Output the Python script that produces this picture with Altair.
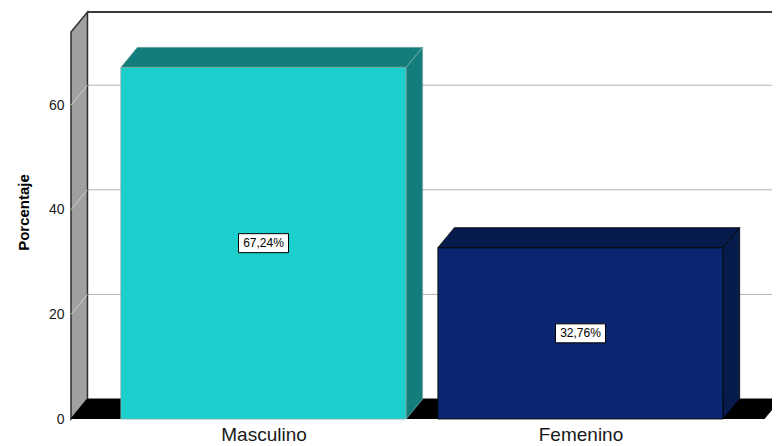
import json
import altair as alt
import pandas as pd

# ---- data ----
categories = ["Masculino", "Femenino"]
percent = [67.24, 32.76]
value_labels = ["67,24%", "32,76%"]
y_ticks = [0, 20, 40, 60]
front_colors = ["#1dcfcc", "#0b2671"]
shade_colors = ["#127d7a", "#061a4b"]
edge_colors = ["#7fa9a8", "#000000"]

# ---- 3D geometry constants (style) ----
Y_MAX = 74.0      # front-plane top of the value axis
DX = 0.052        # depth, in category units
DY = 3.82         # depth, in value units
PLOT_W = 701
X_MIN = 0.3927
X_MAX = X_MIN + PLOT_W / 317.0
HALF_W = 0.45
FLOOR_END = 2.579
FONT = "Liberation Sans"

pos = [i + 1 for i in range(len(categories))]

bars = pd.DataFrame({
    "name": categories, "pos": pos, "value": percent, "label": value_labels,
    "front": front_colors, "shade": shade_colors, "edge": edge_colors,
})
bars["L"] = bars["pos"] - HALF_W
bars["R"] = bars["pos"] + HALF_W
bars["zero"] = 0.0
bars["mid"] = bars["value"] / 2

top_rows, side_rows = [], []
for r in bars.to_dict("records"):
    base = {"name": r["name"], "shade": r["shade"], "edge": r["edge"]}
    top_rows.append({**base, "y": r["value"], "x": r["L"], "x2": r["R"]})
    top_rows.append({**base, "y": r["value"] + DY, "x": r["L"] + DX, "x2": r["R"] + DX})
    side_rows.append({**base, "x": r["R"], "y": r["value"], "y2": 0.0})
    side_rows.append({**base, "x": r["R"] + DX, "y": r["value"] + DY, "y2": DY})
top_df = pd.DataFrame(top_rows)
side_df = pd.DataFrame(side_rows)

floor_df = pd.DataFrame({"y": [0.0, DY], "x": [X_MIN, X_MIN + DX], "x2": [FLOOR_END, FLOOR_END + DX]})
wall_df = pd.DataFrame({"x": [X_MIN, X_MIN + DX], "y": [0.0, DY], "y2": [Y_MAX, Y_MAX + DY]})
grid_back = pd.DataFrame({"y": [v + DY for v in y_ticks[1:]], "x": X_MIN + DX, "x2": X_MAX})
grid_wall = pd.DataFrame({"x": X_MIN, "x2": X_MIN + DX, "y": y_ticks[1:], "y2": [v + DY for v in y_ticks[1:]]})
top_line = pd.DataFrame({"y": [Y_MAX + DY], "x": [X_MIN + DX], "x2": [X_MAX]})

xscale = alt.Scale(domain=[X_MIN, X_MAX], nice=False, zero=False)
yscale = alt.Scale(domain=[0, Y_MAX + DY], nice=False, zero=False)
xaxis = alt.Axis(values=pos, labelExpr=f"{json.dumps(categories)}[datum.value - 1]",
                 ticks=False, domain=False, grid=False, title=None,
                 labelFontSize=19, labelFont=FONT, labelColor="#1a1a1a", labelPadding=6)
yaxis = alt.Axis(values=y_ticks, ticks=False, domain=False, grid=False,
                 title="Porcentaje", titleFont=FONT, titleFontSize=15, titleFontWeight="bold",
                 titleColor="#000000", titlePadding=17, titleY=200,
                 labelFontSize=14, labelFont=FONT, labelColor="#1a1a1a", labelPadding=7)


def X(f):
    return alt.X(f, type="quantitative", scale=xscale, axis=xaxis)


def Y(f):
    return alt.Y(f, type="quantitative", scale=yscale, axis=yaxis)


back_grid = alt.Chart(grid_back).mark_rule(color="#b4b4b4", strokeWidth=1).encode(
    x=X("x"), x2="x2", y=Y("y"))
wall = alt.Chart(wall_df).mark_area(orient="vertical", fill="#a0a0a0", stroke="#2e2e2e",
                                     strokeWidth=1.5).encode(x=X("x"), y=Y("y"), y2="y2")
wall_grid = alt.Chart(grid_wall).mark_rule(color="#cfcfcf", strokeWidth=1).encode(
    x=X("x"), x2="x2", y=Y("y"), y2="y2")
topl = alt.Chart(top_line).mark_rule(color="#3a3a3a", strokeWidth=2).encode(
    x=X("x"), x2="x2", y=Y("y"))
floor = alt.Chart(floor_df).mark_area(orient="horizontal", fill="#000000", stroke="#000000",
                                       strokeWidth=1, clip=True).encode(x=X("x"), x2="x2", y=Y("y"))
front = alt.Chart(bars).mark_rect(strokeWidth=0.8).encode(
    x=X("L"), x2="R", y=Y("value"), y2="zero",
    fill=alt.Fill("front:N", scale=None), stroke=alt.Stroke("edge:N", scale=None))
top = alt.Chart(top_df).mark_area(orient="horizontal", strokeWidth=0.8).encode(
    x=X("x"), x2="x2", y=Y("y"), detail="name:N",
    fill=alt.Fill("shade:N", scale=None), stroke=alt.Stroke("edge:N", scale=None))
side = alt.Chart(side_df).mark_area(orient="vertical", strokeWidth=0.8).encode(
    x=X("x"), y=Y("y"), y2="y2", detail="name:N",
    fill=alt.Fill("shade:N", scale=None), stroke=alt.Stroke("edge:N", scale=None))
box = alt.Chart(bars).mark_point(
    shape="M-1,-0.38L1,-0.38L1,0.38L-1,0.38Z", size=2500, filled=True,
    fill="#ffffff", stroke="#000000", strokeWidth=1, opacity=1).encode(x=X("pos"), y=Y("mid"))
text = alt.Chart(bars).mark_text(font=FONT, fontSize=12, color="#000000", align="center",
                                  baseline="middle").encode(x=X("pos"), y=Y("mid"), text="label:N")

chart = alt.layer(back_grid, wall, wall_grid, topl, floor, front, top, side, box, text).properties(
    width=PLOT_W, height=407,
    padding={"left": 63, "top": 4, "right": 0, "bottom": 27},
    autosize=alt.AutoSizeParams(type="none"),
).configure_view(stroke=None)

chart.save("out.html", embed_options={"renderer": "svg", "actions": False})
